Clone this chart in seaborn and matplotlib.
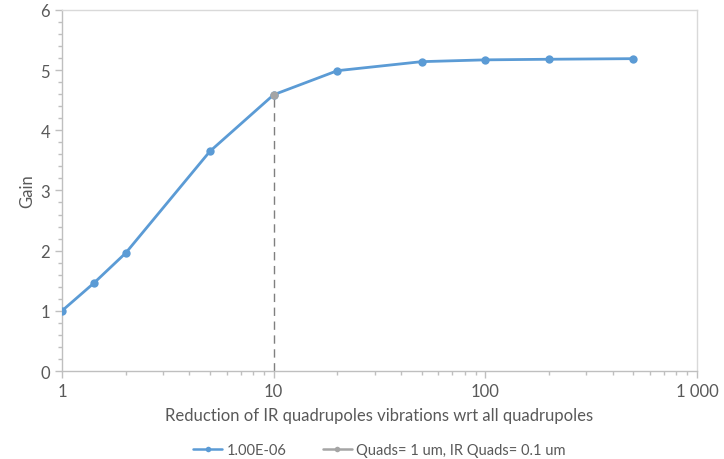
import matplotlib
matplotlib.use("Agg")
import matplotlib.pyplot as plt
import seaborn as sns
import pandas as pd
from matplotlib.ticker import FixedLocator, NullFormatter, MultipleLocator

reduction = [1, 1.414, 2, 5, 10, 20, 50, 100, 200, 500]
gain = [1.00, 1.46, 1.96, 3.65, 4.59, 4.99, 5.14, 5.17, 5.18, 5.19]
series1 = "1.00E-06"
highlight_x = [10]
highlight_y = [4.59]
series2 = "Quads= 1 um, IR Quads= 0.1 um"
xticks = [1, 10, 100, 1000]
xticklabels = ["1", "10", "100", "1 000"]

sns.set_style("white")
plt.rcParams['font.family'] = ['Lato', 'DejaVu Sans']
txt = "#595959"

fig = plt.figure(figsize=(7.24, 4.6), dpi=100)
ax = fig.add_axes([0.0856, 0.1913, 0.877, 0.785])

df1 = pd.DataFrame({"x": reduction, "y": gain})
df2 = pd.DataFrame({"x": highlight_x, "y": highlight_y})

# dashed vertical
ax.plot([highlight_x[0], highlight_x[0]], [0, highlight_y[0]], ls=(0, (6, 4)), color="#7f7f7f", lw=1.0, zorder=1)

sns.lineplot(data=df1, x="x", y="y", ax=ax, color="#5B9BD5", lw=2.0, marker="o",
             markersize=6, markeredgewidth=0, label=series1, zorder=3)
sns.lineplot(data=df2, x="x", y="y", ax=ax, color="#A5A5A5", lw=2.0, marker="o",
             markersize=6, markeredgewidth=0, label=series2, zorder=4)

ax.set_xscale("log")
ax.set_xlim(1, 1000)
ax.set_ylim(0, 6)
ax.xaxis.set_major_locator(FixedLocator(xticks))
ax.set_xticklabels(xticklabels)
minors = [m * 10 ** d for d in range(0, 3) for m in range(2, 10)]
ax.xaxis.set_minor_locator(FixedLocator(minors))
ax.xaxis.set_minor_formatter(NullFormatter())
ax.yaxis.set_major_locator(MultipleLocator(1))
ax.yaxis.set_minor_locator(MultipleLocator(0.2))

ax.tick_params(axis="both", which="both", direction="out", colors="#BFBFBF",
               labelcolor=txt, labelsize=12)
ax.tick_params(axis="both", which="major", length=5, width=1)
ax.tick_params(axis="both", which="minor", length=3, width=1)
ax.tick_params(axis="x", which="both", bottom=True)
ax.tick_params(axis="y", which="both", left=True)

for s in ["left", "bottom"]:
    ax.spines[s].set_color("#BFBFBF")
    ax.spines[s].set_linewidth(1)
for s in ["top", "right"]:
    ax.spines[s].set_visible(True)
    ax.spines[s].set_color("#D9D9D9")
    ax.spines[s].set_linewidth(1)

ax.set_xlabel("Reduction of IR quadrupoles vibrations wrt all quadrupoles", color=txt, fontsize=12, labelpad=6)
ax.set_ylabel("Gain", color=txt, fontsize=12, labelpad=4)

leg = ax.legend(loc="center", bbox_to_anchor=(0.5, -0.219), ncol=2, frameon=False,
                fontsize=10.5, handlelength=2.0, columnspacing=2.5, handletextpad=0.3)
for t in leg.get_texts():
    t.set_color(txt)
for h in leg.legend_handles:
    h.set_markersize(4)
    h.set_linewidth(1.8)

fig.savefig("out.png", dpi=100)
